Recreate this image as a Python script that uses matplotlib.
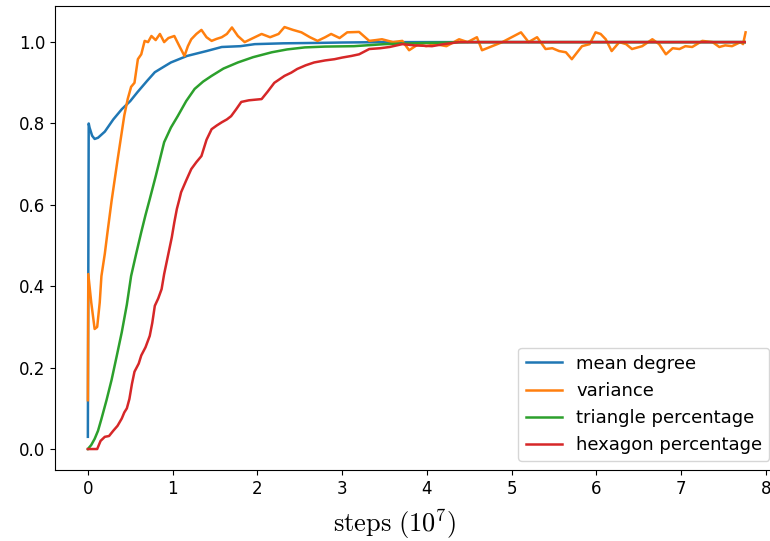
import matplotlib
matplotlib.use("Agg")
import matplotlib.pyplot as plt

plt.rcParams['mathtext.fontset'] = 'cm'

# steps in units of 1e7
degree_x = [0, 0.01, 0.02, 0.05, 0.08, 0.12, 0.2, 0.3, 0.4, 0.5, 0.585, 0.7, 0.79, 0.9,
            0.98, 1.17, 1.4, 1.58, 1.8, 1.97, 2.3, 2.7, 3.0, 3.5, 4.0, 5.0, 6.0, 7.0, 7.75]
degree_y = [0.03, 0.80, 0.79, 0.77, 0.762, 0.765, 0.78, 0.81, 0.835, 0.855, 0.877, 0.905,
            0.926, 0.94, 0.95, 0.966, 0.978, 0.988, 0.99, 0.995, 0.997, 0.998, 0.999, 1.0,
            1.0, 1.0, 1.0, 1.0, 1.0]

variance_x = [0, 0.005, 0.04, 0.08, 0.11, 0.14, 0.16, 0.2, 0.23, 0.28, 0.35, 0.43, 0.47,
              0.51, 0.55, 0.59, 0.63, 0.67, 0.71, 0.75, 0.8, 0.85, 0.9, 0.95, 1.02, 1.08,
              1.14, 1.18, 1.22, 1.28, 1.34, 1.4, 1.46, 1.52, 1.58, 1.64, 1.7, 1.77, 1.85,
              1.95, 2.05, 2.15, 2.25, 2.32, 2.42, 2.52, 2.62, 2.71, 2.8, 2.87, 2.97, 3.06,
              3.2, 3.32, 3.4, 3.47, 3.6, 3.71, 3.79, 3.9, 3.99, 4.1, 4.23, 4.38, 4.48,
              4.59, 4.65, 4.77, 4.89, 5.0, 5.11, 5.2, 5.3, 5.4, 5.48, 5.56, 5.64, 5.71,
              5.83, 5.92, 5.99, 6.05, 6.11, 6.18, 6.27, 6.35, 6.42, 6.54, 6.66, 6.74,
              6.82, 6.9, 6.98, 7.05, 7.13, 7.25, 7.37, 7.45, 7.52, 7.6, 7.7, 7.73, 7.76]
variance_y = [0.12, 0.43, 0.36, 0.295, 0.3, 0.36, 0.425, 0.48, 0.53, 0.61, 0.71, 0.82, 0.86,
              0.89, 0.9, 0.958, 0.97, 1.003, 1.0, 1.015, 1.005, 1.02, 1.0, 1.01, 1.015, 0.99,
              0.966, 0.99, 1.007, 1.02, 1.03, 1.012, 1.003, 1.008, 1.012, 1.02, 1.036, 1.015,
              1.0, 1.01, 1.02, 1.012, 1.02, 1.037, 1.03, 1.024, 1.012, 1.003, 1.012, 1.02,
              1.01, 1.024, 1.025, 1.003, 1.005, 1.007, 1.0, 1.003, 0.98, 0.995, 0.99, 0.995,
              0.99, 1.007, 1.0, 1.012, 0.98, 0.99, 1.0, 1.012, 1.024, 1.0, 1.012, 0.983,
              0.985, 0.978, 0.975, 0.958, 0.99, 0.995, 1.024, 1.02, 1.007, 0.978, 1.0, 0.995,
              0.983, 0.99, 1.007, 0.995, 0.97, 0.985, 0.983, 0.99, 0.988, 1.003, 1.0, 0.988,
              0.992, 0.99, 1.0, 0.995, 1.024]

triangle_x = [0, 0.04, 0.08, 0.12, 0.16, 0.22, 0.28, 0.34, 0.4, 0.46, 0.51, 0.57, 0.63, 0.68,
              0.73, 0.8, 0.9, 0.98, 1.06, 1.16, 1.26, 1.36, 1.46, 1.6, 1.77, 1.95, 2.17,
              2.35, 2.56, 2.8, 3.14, 3.5, 4.0, 4.5, 5.0, 6.0, 7.0, 7.75]
triangle_y = [0, 0.01, 0.025, 0.045, 0.074, 0.12, 0.17, 0.228, 0.287, 0.355, 0.425, 0.48,
              0.533, 0.575, 0.614, 0.67, 0.754, 0.79, 0.818, 0.855, 0.885, 0.903, 0.917,
              0.935, 0.95, 0.963, 0.975, 0.982, 0.987, 0.989, 0.99, 0.995, 0.998, 1.0, 1.0,
              1.0, 1.0, 1.0]

hexagon_x = [0, 0.11, 0.15, 0.2, 0.25, 0.3, 0.35, 0.4, 0.43, 0.46, 0.49, 0.52, 0.55, 0.6,
             0.63, 0.68, 0.73, 0.76, 0.79, 0.83, 0.87, 0.9, 0.93, 0.96, 0.99, 1.02, 1.05,
             1.08, 1.1, 1.16, 1.22, 1.28, 1.34, 1.4, 1.46, 1.52, 1.58, 1.64, 1.69, 1.75,
             1.81, 1.9, 2.05, 2.12, 2.2, 2.32, 2.4, 2.47, 2.57, 2.67, 2.8, 2.91, 3.0, 3.11,
             3.2, 3.32, 3.45, 3.56, 3.71, 3.85, 4.06, 4.2, 4.38, 5.0, 6.0, 7.0, 7.75]
hexagon_y = [0, 0, 0.02, 0.03, 0.032, 0.045, 0.057, 0.075, 0.09, 0.1, 0.123, 0.16, 0.19,
             0.21, 0.23, 0.25, 0.278, 0.31, 0.352, 0.37, 0.393, 0.43, 0.46, 0.49, 0.52,
             0.557, 0.59, 0.614, 0.631, 0.66, 0.688, 0.705, 0.72, 0.76, 0.786, 0.795, 0.803,
             0.81, 0.818, 0.835, 0.853, 0.857, 0.86, 0.878, 0.9, 0.917, 0.925, 0.934, 0.943,
             0.95, 0.955, 0.958, 0.962, 0.966, 0.97, 0.983, 0.985, 0.988, 0.995, 0.992,
             0.99, 0.995, 1.0, 1.0, 1.0, 1.0, 1.0]

labels = ["mean degree", "variance", "triangle percentage", "hexagon percentage"]

fig = plt.figure(figsize=(7.7, 5.41), dpi=100)
ax = fig.add_axes([0.0714, 0.131, 0.9396, 0.858])

ax.plot(degree_x, degree_y, lw=1.8, label=labels[0])
ax.plot(variance_x, variance_y, lw=1.8, label=labels[1])
ax.plot(triangle_x, triangle_y, lw=1.8, label=labels[2])
ax.plot(hexagon_x, hexagon_y, lw=1.8, label=labels[3])

ax.tick_params(labelsize=12)
ax.set_xticks(range(0, 9))
ax.set_xlabel(r'$\mathrm{steps}\ (10^7)$', fontsize=19, x=0.47, labelpad=7)
ax.legend(loc='lower right', fontsize=13)

fig.savefig("out.png", dpi=100)
